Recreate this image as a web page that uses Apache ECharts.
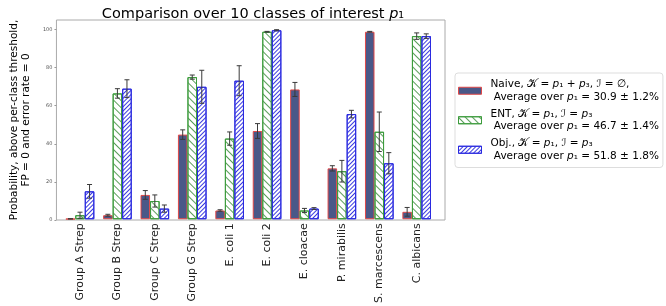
<!DOCTYPE html>
<html>
<head>
<meta charset="utf-8">
<script src="https://cdn.jsdelivr.net/npm/echarts@6/dist/echarts.min.js"></script>
<style>
  html, body { margin: 0; padding: 0; background: #fff; }
  #chart { width: 666px; height: 306px; }
</style>
</head>
<body>
<div id="chart"></div>
<script>
const categories = ['Group A Strep', 'Group B Strep', 'Group C Strep', 'Group G Strep', 'E. coli 1',
  'E. coli 2', 'E. cloacae', 'P. mirabilis', 'S. marcescens', 'C. albicans'];

// mean probability (%) and error per method
const naive = [0.2, 2.1, 12.8, 44.6, 4.6, 46.5, 68.4, 26.8, 98.8, 3.9];
const naiveErr = [0.1, 0.5, 2.3, 2.5, 0.4, 3.9, 3.7, 1.4, 0.2, 2.3];
const ent = [2.1, 66.3, 9.6, 74.9, 42.5, 98.8, 4.6, 25.3, 46.1, 96.5];
const entErr = [1.6, 2.5, 3.2, 1.1, 3.5, 0.2, 1.1, 5.7, 10.4, 1.7];
const obj = [14.7, 68.8, 5.6, 69.8, 73.0, 99.6, 5.6, 55.4, 29.5, 96.5];
const objErr = [3.6, 4.7, 1.9, 8.7, 7.9, 0.3, 0.5, 2.0, 5.6, 1.2];

const seriesNames = ['Naive', 'ENT', 'Obj.'];
const legendLabels = [
  '{t|Naive, }{c|𝒦}{t| = }{i|p}{t|₁ + }{i|p}{t|₃, }{c|ℐ}{t| = ∅,}\n{t| Average over }{i|p}{t|₁ = 30.9 ± 1.2%}',
  '{t|ENT, }{c|𝒦}{t| = }{i|p}{t|₁, }{c|ℐ}{t| = }{i|p}{t|₃}\n{t| Average over }{i|p}{t|₁ = 46.7 ± 1.4%}',
  '{t|Obj., }{c|𝒦}{t| = }{i|p}{t|₁, }{c|ℐ}{t| = }{i|p}{t|₃}\n{t| Average over }{i|p}{t|₁ = 51.8 ± 1.8%}'
];

const FONT = 'DejaVu Sans';
const BAR_W = 0.255;

const chart = echarts.init(document.getElementById('chart'), null, { renderer: 'canvas' });

function errSeries(vals, errs, k) {
  return {
    type: 'custom',
    xAxisIndex: 1,
    yAxisIndex: 1,
    z: 5,
    silent: true,
    data: vals.map((v, i) => [i, v, errs[i]]),
    renderItem: (params, api) => {
      const i = api.value(0), v = api.value(1), e = api.value(2);
      const bw = api.size([1, 0])[0] * BAR_W;
      const off = (k - 1) * bw;
      const top = api.coord([i, v + e]);
      const bot = api.coord([i, Math.max(0, v - e)]);
      const x = top[0] + off;
      const cap = 2.5;
      const style = { stroke: '#3a3a3a', lineWidth: 1 };
      return {
        type: 'group',
        children: [
          { type: 'line', shape: { x1: x, y1: top[1], x2: x, y2: bot[1] }, style },
          { type: 'line', shape: { x1: x - cap, y1: top[1], x2: x + cap, y2: top[1] }, style },
          { type: 'line', shape: { x1: x - cap, y1: bot[1], x2: x + cap, y2: bot[1] }, style }
        ]
      };
    }
  };
}

chart.setOption({
  backgroundColor: '#fff',
  animation: false,
  textStyle: { fontFamily: FONT },
  title: {
    text: 'Comparison over 10 classes of interest {i|p}₁',
    left: 248,
    top: 2,
    textAlign: 'center',
    textStyle: {
      fontFamily: FONT, fontSize: 14.5, fontWeight: 'normal', color: '#000',
      rich: { i: { fontFamily: FONT, fontSize: 14.5, fontStyle: 'italic', color: '#000' } }
    }
  },
  legend: {
    orient: 'vertical',
    left: 455,
    top: 73,
    padding: [6, 4, 6, 3],
    itemGap: 6,
    itemWidth: 23,
    itemHeight: 7,
    icon: 'rect',
    itemStyle: { borderWidth: 1 },
    backgroundColor: '#fff',
    borderColor: '#ddd',
    borderWidth: 1,
    borderRadius: 3,
    data: seriesNames,
    formatter: name => legendLabels[seriesNames.indexOf(name)],
    textStyle: {
      padding: [0, 0, 0, 4],
      rich: {
        t: { fontFamily: FONT, fontSize: 10.5, color: '#000', lineHeight: 12.5 },
        i: { fontFamily: FONT, fontSize: 10.5, fontStyle: 'italic', color: '#000', lineHeight: 12.5 },
        c: { fontFamily: FONT, fontSize: 10.5, color: '#000', lineHeight: 12.5 }
      }
    }
  },
  grid: [
    { left: 48, right: 221, top: 20, bottom: 86, show: true, borderColor: '#aaa', borderWidth: 1 },
    { left: 61.3, right: 230.6, top: 20, bottom: 86 }
  ],
  xAxis: [
    { type: 'value', gridIndex: 0, show: false, min: 0, max: 1 },
    {
      type: 'category', gridIndex: 1, data: categories,
      axisLine: { show: false }, axisTick: { show: false },
      axisLabel: { rotate: 90, margin: 4, fontFamily: FONT, fontSize: 11, color: '#222', interval: 0 }
    }
  ],
  yAxis: [
    {
      type: 'value', gridIndex: 0, min: 0, max: 105, interval: 20,
      name: 'Probability, above per-class threshold,\nFP = 0 and error rate = 0',
      nameLocation: 'middle', nameGap: 18,
      nameTextStyle: { fontFamily: FONT, fontSize: 10.5, color: '#000', lineHeight: 12 },
      axisLine: { show: false },
      axisTick: { show: true, length: 2, lineStyle: { color: '#999' } },
      axisLabel: { fontSize: 5, color: '#555', margin: 4, showMaxLabel: false },
      splitLine: { show: false }
    },
    { type: 'value', gridIndex: 1, min: 0, max: 105, show: false, splitLine: { show: false } }
  ],
  series: [
    {
      name: 'Naive', type: 'bar', xAxisIndex: 1, yAxisIndex: 1, data: naive,
      barWidth: (BAR_W * 100) + '%', barGap: '0%',
      itemStyle: { color: '#4a5888', borderColor: '#e04848', borderWidth: 1 }
    },
    {
      name: 'ENT', type: 'bar', xAxisIndex: 1, yAxisIndex: 1, data: ent,
      barWidth: (BAR_W * 100) + '%', barGap: '0%',
      itemStyle: {
        color: '#fff', borderColor: '#3c9c3c', borderWidth: 1,
        decal: { symbol: 'rect', symbolSize: 1, dashArrayX: [1, 0], dashArrayY: [1, 4], rotation: Math.PI / 4, color: '#5a9e5a' }
      }
    },
    {
      name: 'Obj.', type: 'bar', xAxisIndex: 1, yAxisIndex: 1, data: obj,
      barWidth: (BAR_W * 100) + '%', barGap: '0%',
      itemStyle: {
        color: '#fff', borderColor: '#2a2ae0', borderWidth: 1,
        decal: { symbol: 'rect', symbolSize: 1, dashArrayX: [1, 0], dashArrayY: [1, 2], rotation: -Math.PI / 4, color: '#3a3ae0' }
      }
    },
    errSeries(naive, naiveErr, 0),
    errSeries(ent, entErr, 1),
    errSeries(obj, objErr, 2)
  ]
});
</script>
</body>
</html>
